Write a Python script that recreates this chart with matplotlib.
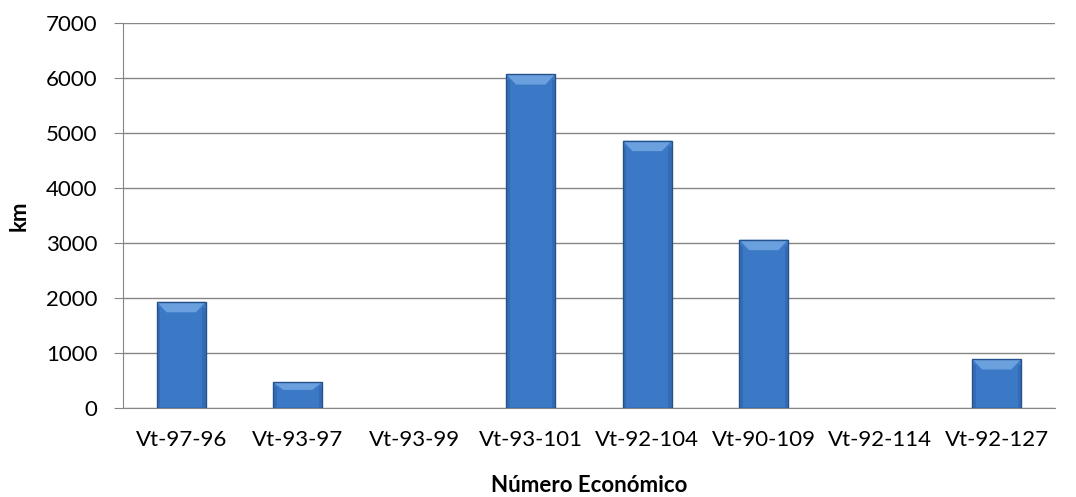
import matplotlib.pyplot as plt
import numpy as np
from matplotlib.patches import Polygon, Rectangle

# datos
unidades = ["Vt-97-96", "Vt-93-97", "Vt-93-99", "Vt-93-101", "Vt-92-104", "Vt-90-109", "Vt-92-114", "Vt-92-127"]
km = [1930, 470, 0, 6070, 4860, 3060, 0, 890]

plt.rcParams['font.family'] = ['Lato', 'DejaVu Sans']

W, H = 1076, 497
fig = plt.figure(figsize=(W / 100, H / 100), dpi=100)
ax = fig.add_axes([123 / W, 1 - 408 / H, (1055 - 123) / W, (408 - 23) / H])

x = np.arange(len(unidades))
ancho = 0.42
barras = ax.bar(x, km, width=ancho, color="#3b78c6", linewidth=0, zorder=3)

# efecto bisel (franja superior clara, lados algo mas oscuros)
for b in barras:
    h = b.get_height()
    if h <= 0:
        continue
    x0 = b.get_x()
    w = b.get_width()
    d = min(190, h * 0.3)
    dx = w * 0.2
    ax.add_patch(Polygon([[x0, h], [x0 + w, h], [x0 + w - dx, h - d], [x0 + dx, h - d]],
                         closed=True, facecolor="#6aa0dd", edgecolor="none", zorder=4))
    ax.add_patch(Rectangle((x0, 0), w * 0.07, h - d * 0.6, facecolor="#346cb3", edgecolor="none", zorder=4))
    ax.add_patch(Rectangle((x0 + w * 0.93, 0), w * 0.07, h - d * 0.6, facecolor="#346cb3", edgecolor="none", zorder=4))
    ax.bar(x0 + w / 2, h, width=w, fill=False, edgecolor="#25528c", linewidth=1.0, zorder=5)

ax.set_ylim(0, 7000)
ax.set_xlim(-0.5, len(unidades) - 0.5)
ax.set_yticks(range(0, 7001, 1000))
ax.set_xticks(x)
ax.set_xticklabels(unidades)
ax.yaxis.grid(True, color="#868686", linewidth=1.0, zorder=0)
ax.set_axisbelow(True)

for s in ["top", "right"]:
    ax.spines[s].set_visible(False)
ax.spines["left"].set_color("#868686")
ax.spines["bottom"].set_color("#868686")
ax.tick_params(axis="y", length=6.5, color="#868686", labelsize=16, pad=12)
ax.tick_params(axis="x", length=0, labelsize=16, pad=16)

fig.text(19 / W, 1 - 215.5 / H, "km", rotation=90, fontsize=16, fontweight="bold", ha="center", va="center")
fig.text(589 / W, 1 - 485 / H, "Número Económico", fontsize=16, fontweight="bold", ha="center", va="center")

fig.savefig("out.png", dpi=100)
